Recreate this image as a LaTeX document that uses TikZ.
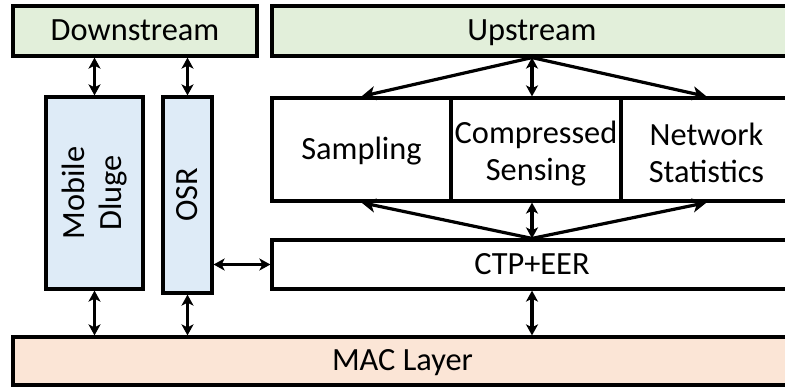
\documentclass[tikz,border=0pt]{standalone}
\usepackage{fontspec}
\setmainfont{Carlito}
\usetikzlibrary{arrows.meta}
\definecolor{greenfill}{HTML}{E2EFDA}
\definecolor{bluefill}{HTML}{DEEBF7}
\definecolor{macfill}{HTML}{FBE5D6}
\tikzset{
  lbl/.style={font=\fontsize{32.5}{37}\selectfont, align=center},
  blk/.style={lbl, draw=black, line width=3.2bp, inner sep=0pt},
  oneline/.style={text height=19bp, text depth=0pt},
  link/.style={line width=3.2bp, {Stealth[length=11bp,width=12bp,inset=3bp]}-{Stealth[length=11bp,width=12bp,inset=3bp]}},
  oneway/.style={line width=3.2bp, -{Stealth[length=14bp,width=14bp,inset=4bp]}},
}
\begin{document}
\begin{tikzpicture}[x=1bp,y=-1bp]
\clip (0,0) rectangle (785,386);
\fill[white] (0,0) rectangle (785,386);
% layers
\node[blk, oneline, fill=greenfill, minimum width=244bp, minimum height=50bp] (down) at (135,31) {Downstream};
\node[blk, oneline, fill=greenfill, minimum width=520bp, minimum height=50bp] (up) at (532,31) {Upstream};
\node[blk, fill=bluefill, minimum width=97bp, minimum height=192bp] (mob) at (94.5,193) {};
\node[lbl, rotate=90] (mobtext) at (mob.center) {Mobile\\Dluge};
\node[blk, fill=bluefill, minimum width=49bp, minimum height=196bp] (osr) at (187.5,195) {};
\node[lbl, oneline, rotate=90] (osrtext) at (osr.center) {OSR};
\node[blk, oneline, fill=white, minimum width=179bp, minimum height=103bp] (samp) at (361.5,149.5) {Sampling};
\node[blk, fill=white, minimum width=170bp, minimum height=103bp] (cs) at (536,149.5) {\rule{0pt}{30bp}Compressed\\Sensing};
\node[blk, fill=white, minimum width=171bp, minimum height=103bp] (ns) at (706.5,149.5) {\rule{0pt}{30bp}Network\\Statistics};
\node[blk, oneline, fill=white, minimum width=520bp, minimum height=49bp] (ctp) at (532,264.5) {CTP+EER};
\node[blk, oneline, fill=macfill, minimum width=779bp, minimum height=48bp] (mac) at (402.5,361) {MAC Layer};
% connectors
\draw[link] (down.south -| mob.north) -- (mob.north);
\draw[link] (down.south -| osr.north) -- (osr.north);
\draw[link] (up.south) -- (up.south |- cs.north);
\draw[oneway] (up.south) -- (samp.north);
\draw[oneway] (up.south) -- (ns.north);
\draw[link] (ctp.north) -- (ctp.north |- cs.south);
\draw[oneway] (ctp.north) -- (samp.south);
\draw[oneway] (ctp.north) -- (ns.south);
\draw[link] (osr.east |- ctp.west) -- (ctp.west);
\draw[link] (mob.south) -- (mob.south |- mac.north);
\draw[link] (osr.south) -- (osr.south |- mac.north);
\draw[link] (ctp.south) -- (ctp.south |- mac.north);
\end{tikzpicture}
\end{document}
